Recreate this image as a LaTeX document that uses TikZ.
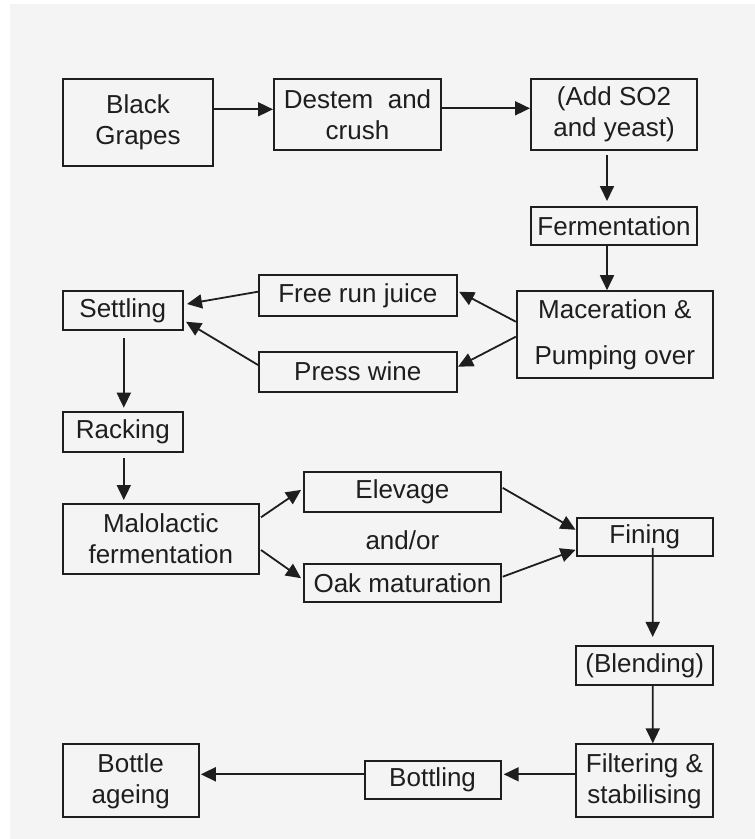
\documentclass[tikz,border=0pt]{standalone}
\usepackage{fontspec}
\setmainfont{Liberation Sans}
\usetikzlibrary{arrows.meta,calc}
\definecolor{paper}{HTML}{F4F4F4}
\definecolor{ink}{HTML}{1E1E1E}
\begin{document}
\begin{tikzpicture}[x=1pt,y=-1pt,
  box/.style={draw=ink,line width=2pt,inner sep=0pt,align=center,
    font=\fontsize{26}{31}\selectfont,text=ink},
  lbl/.style={inner sep=0pt,font=\fontsize{26}{31}\selectfont,text=ink},
  arr/.style={draw=ink,line width=1.8pt,-{Triangle[length=15pt,width=14pt]}}]
\useasboundingbox (0,0) rectangle (755,839);
\fill[paper] (10,4) rectangle (755,839);

% boxes
\node[box,minimum width=150pt,minimum height=87pt] (grapes) at (138,122.5) {Black\\Grapes};
\node[box,minimum width=167pt,minimum height=71pt] (destem) at (357.5,114.5) {Destem\ \ and\\crush};
\node[box,minimum width=166pt,minimum height=71pt] (addso) at (614,114.5) {(Add SO2\\and yeast)};
\node[box,minimum width=166pt,minimum height=38pt] (ferm) at (614,226) {Fermentation};
\node[box,minimum width=196pt,minimum height=87pt] (mac) at (614.8,334.7) {Maceration \&\\[15.7pt]Pumping over};
\node[box,minimum width=197.5pt,minimum height=40.4pt] (free) at (357.8,295.5) {Free run juice};
\node[box,minimum width=197.5pt,minimum height=40pt] (press) at (357.8,371.7) {Press wine};
\node[box,minimum width=120.4pt,minimum height=39pt] (settle) at (122.8,310.5) {Settling};
\node[box,minimum width=120.4pt,minimum height=40.6pt] (rack) at (122.8,432) {Racking};
\node[box,minimum width=196.4pt,minimum height=70pt] (malo) at (160.8,539) {Malolactic\\fermentation};
\node[box,minimum width=196.7pt,minimum height=40.3pt] (elev) at (402.4,491.9) {Elevage};
\node[box,minimum width=196.7pt,minimum height=38.3pt] (oak) at (402.4,583.2) {Oak maturation};
\node[lbl] (andor) at (402.4,540) {and/or};
\node[box,minimum width=136.5pt,minimum height=38.5pt] (fining) at (644.8,536.8) {Fining};
\node[box,minimum width=136.7pt,minimum height=38.7pt] (blend) at (644.7,665.3) {(Blending)};
\node[box,minimum width=137pt,minimum height=73pt] (filter) at (644.5,780.8) {Filtering \&\\stabilising};
\node[box,minimum width=136.2pt,minimum height=38.3pt] (bottling) at (432.6,779.8) {Bottling};
\node[box,minimum width=136.2pt,minimum height=73pt] (ageing) at (130.7,780.8) {Bottle\\ageing};

% connectors
\draw[arr] ($(grapes.east)+(0,-13.2)$) -- ($(destem.west)+(0,-5.2)$);
\draw[arr] ($(destem.east)+(0,-6.2)$) -- ($(addso.west)+(0,-6.2)$);
\draw[arr] ($(addso.south)+(-7,4)$) -- ($(ferm.north)+(-7,-5)$);
\draw[arr] ($(ferm.south)+(-7,0)$) -- ($(mac.north)+(-7.8,0)$);
\draw[arr] ($(mac.west)+(0,-13)$) -- ($(free.east)+(1.5,-3.8)$);
\draw[arr] ($(mac.west)+(0,2)$) -- ($(press.east)+(0.5,-5)$);
\draw[arr] ($(free.west)+(0,-3.8)$) -- ($(settle.east)+(3,-6.5)$);
\draw[arr] ($(press.west)+(0,-6.7)$) -- ($(settle.east)+(2,11.2)$);
\draw[arr] ($(settle.south)+(1,6.7)$) -- ($(rack.north)+(1,-3)$);
\draw[arr] ($(rack.south)+(1,5)$) -- ($(rack.south |- malo.north)+(1,-3)$);
\draw[arr] ($(malo.east)+(1,-21.7)$) -- ($(elev.west)+(-2,-2)$);
\draw[arr] ($(malo.east)+(1,11)$) -- ($(oak.west)+(-2,-5)$);
\draw[arr] ($(elev.east)+(1,-4)$) -- ($(fining.west)+(0,-7)$);
\draw[arr] ($(oak.east)+(1,-6.5)$) -- ($(fining.west)+(0,13)$);
\draw[arr] ($(fining.center)+(8,11)$) -- ($(blend.north)+(8,-8)$);
\draw[arr] ($(blend.south)+(8,0)$) -- ($(filter.north)+(8.3,0)$);
\draw[arr] ($(filter.west)+(0,-6.5)$) -- ($(bottling.east)+(2,-5.5)$);
\draw[arr] ($(bottling.west)+(0,-5.5)$) -- ($(ageing.east)+(1,-6.5)$);
\end{tikzpicture}
\end{document}
